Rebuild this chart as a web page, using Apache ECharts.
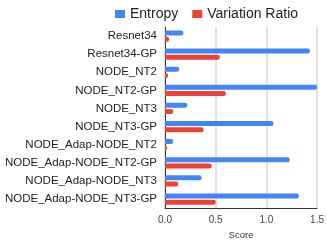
<!DOCTYPE html>
<html><head><meta charset="utf-8">
<script src="https://cdn.jsdelivr.net/npm/echarts@6/dist/echarts.min.js"></script>
<style>html,body{margin:0;padding:0;background:#fff}#c{width:327px;height:245px}</style>
</head><body><div id="c"></div>
<script>
const categories = ["Resnet34","Resnet34-GP","NODE_NT2","NODE_NT2-GP","NODE_NT3","NODE_NT3-GP","NODE_Adap-NODE_NT2","NODE_Adap-NODE_NT2-GP","NODE_Adap-NODE_NT3","NODE_Adap-NODE_NT3-GP"];
const entropy = [0.18, 1.43, 0.14, 1.5, 0.22, 1.07, 0.08, 1.23, 0.36, 1.32];
const variationRatio = [0.04, 0.54, 0.03, 0.60, 0.08, 0.38, 0.02, 0.46, 0.13, 0.50];
const xTicks = [0, 0.5, 1.0, 1.5];
const chart = echarts.init(document.getElementById('c'));
const font = 'Liberation Sans, Arial, sans-serif';
chart.setOption({
  animation: false,
  textStyle: {fontFamily: font},
  legend: {
    top: 2, left: 110, itemWidth: 10, itemHeight: 8, itemGap: 14,
    icon: 'rect',
    textStyle: {fontSize: 14, color: '#222', fontFamily: font},
    data: ['Entropy', 'Variation Ratio']
  },
  grid: {left: 165, right: 8, top: 27, bottom: 26, containLabel: false},
  xAxis: {
    type: 'value', min: 0, max: 1.5, interval: 0.5,
    name: 'Score', nameLocation: 'middle', nameGap: 21,
    nameTextStyle: {fontSize: 9.5, color: '#333', fontFamily: font},
    axisLine: {show: true, lineStyle: {color: '#333', width: 1}},
    axisTick: {show: false},
    axisLabel: {fontSize: 10, color: '#444', margin: 7, formatter: v => v.toFixed(1)},
    splitLine: {show: true, lineStyle: {color: '#d9d9d9', width: 1.5}}
  },
  yAxis: {
    type: 'category', data: categories, inverse: true,
    axisLine: {show: true, lineStyle: {color: '#333', width: 1}},
    axisTick: {show: false},
    axisLabel: {fontSize: 11.5, color: '#222', margin: 8, fontFamily: font}
  },
  series: [
    {name: 'Entropy', type: 'bar', data: entropy, barWidth: 5, barGap: '25%',
     itemStyle: {color: '#4285F4', borderRadius: [0, 2, 2, 0]}},
    {name: 'Variation Ratio', type: 'bar', data: variationRatio, barWidth: 5,
     itemStyle: {color: '#EA4335', borderRadius: [0, 2, 2, 0]}}
  ]
});
</script></body></html>
